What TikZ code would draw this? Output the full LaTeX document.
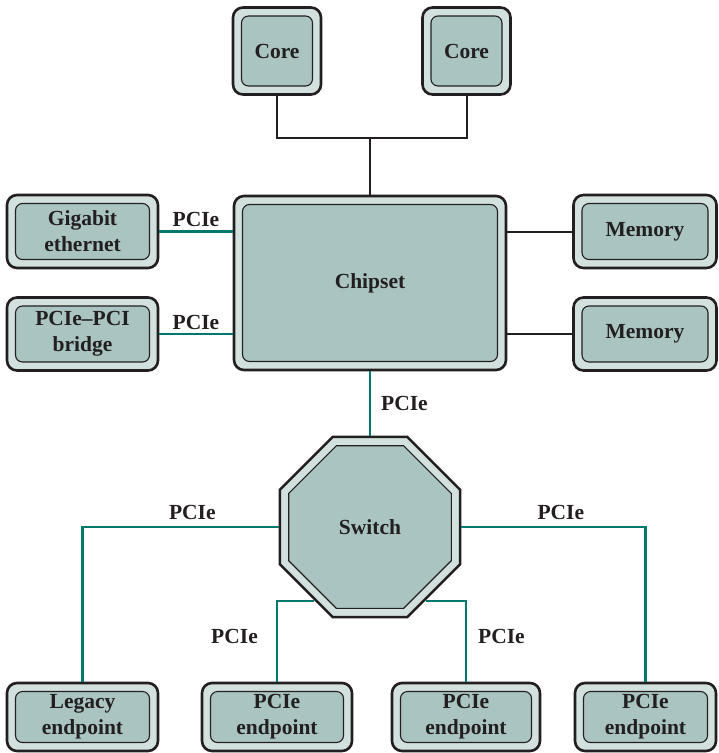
\documentclass[tikz,border=0pt]{standalone}
\usepackage{fontspec}
\setmainfont{Liberation Serif}
\usetikzlibrary{shapes.geometric}

\definecolor{edge}{HTML}{231F20}
\definecolor{shell}{HTML}{D3E1DE}
\definecolor{kern}{HTML}{A9C4C1}
\definecolor{teal}{HTML}{00796C}

\tikzstyle{block} = [draw=edge, line width=2.6pt, fill=shell, rounded corners=10pt,
  inner sep=0pt, align=center, text=edge,
  path picture={\draw[edge, line width=1.1pt, fill=kern, rounded corners=7pt]
    ([shift={(8.5pt,8.5pt)}]path picture bounding box.south west) rectangle
    ([shift={(-8.5pt,-8.5pt)}]path picture bounding box.north east);}]
\tikzstyle{hub} = [regular polygon, regular polygon sides=8, draw=edge, inner sep=0pt]
\tikzstyle{wire} = [draw=edge, line width=2pt]
\tikzstyle{pcie} = [draw=teal, line width=2.4pt]
\tikzstyle{tag} = [text=edge]

\begin{document}
\begin{tikzpicture}[x=1pt, y=-1pt, font=\fontsize{21.5}{26}\selectfont\bfseries]
		\useasboundingbox (0,0) rectangle (719,753);

		% processor side
		\node [block, minimum width=88pt, minimum height=87pt] (Core1) at (277,51) {Core};
		\node [block, minimum width=88pt, minimum height=87pt] (Core2) at (466.5,51) {Core};
		\node [block, minimum width=272pt, minimum height=174pt] (Chipset) at (370,283) {Chipset};
		\coordinate (Bus) at (370,138);

		\node [block, minimum width=151pt, minimum height=73pt] (Ethernet) at (82.5,231.5) {Gigabit\\ethernet};
		\node [block, minimum width=151pt, minimum height=73pt] (Bridge) at (82.5,334) {PCIe--PCI\\bridge};
		\node [block, minimum width=143pt, minimum height=73pt] (Memory1) at (645,231.5) {Memory};
		\node [block, minimum width=143pt, minimum height=73pt] (Memory2) at (645,334) {Memory};

		% switch and endpoints
		\node [hub, line width=2.6pt, fill=shell, minimum size=195pt] (Switch) at (370,527) {};
		\node [hub, line width=1.1pt, fill=kern, minimum size=176pt, text=edge] (SwitchIn) at (Switch) {Switch};

		\node [block, minimum width=151pt, minimum height=68pt] (Legacy) at (82.5,717) {Legacy\\endpoint};
		\node [block, minimum width=150pt, minimum height=68pt] (Endpoint1) at (277,717) {PCIe\\endpoint};
		\node [block, minimum width=148pt, minimum height=68pt] (Endpoint2) at (466,717) {PCIe\\endpoint};
		\node [block, minimum width=141pt, minimum height=68pt] (Endpoint3) at (645.5,717) {PCIe\\endpoint};

		\path [wire] (Core1.south) |- (Bus) -| (Core2.south);
		\path [wire] (Bus) -- (Chipset.north);
		\path [wire] (Chipset.east |- Memory1.west) -- (Memory1.west);
		\path [wire] (Chipset.east |- Memory2.west) -- (Memory2.west);

		\path [pcie] (Ethernet.east) -- node [tag, above] {PCIe} (Ethernet.east -| Chipset.west);
		\path [pcie] (Bridge.east) -- node [tag, above] {PCIe} (Bridge.east -| Chipset.west);
		\path [pcie] (Chipset.south) -- node [tag, right, inner sep=10pt] {PCIe} (Switch.north);

		\path [pcie] (Switch.west) -| node [tag, above, pos=0.22, yshift=3pt] {PCIe} (Legacy.north);
		\path [pcie] (Switch.east) -| node [tag, above, pos=0.27, yshift=3pt] {PCIe} (Endpoint3.north);
		\path [pcie] (Endpoint1.north) |- node [tag, left, pos=0.28, inner sep=18pt] {PCIe} (Switch.233);
		\path [pcie] (Endpoint2.north) |- node [tag, right, pos=0.28, inner sep=11pt] {PCIe} (Switch.307);
	\end{tikzpicture}
\end{document}
